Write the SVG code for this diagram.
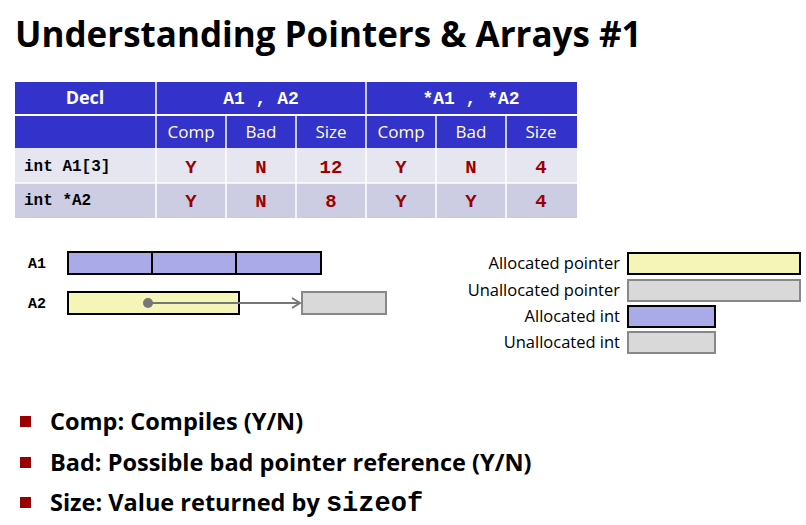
<svg xmlns="http://www.w3.org/2000/svg" width="806" height="525" viewBox="0 0 806 525">
<style>
.t{font-family:"Open Sans","Liberation Sans",sans-serif}
.m{font-family:"Liberation Mono",monospace;font-weight:bold}
.hd{fill:#3333cc}
.hw{fill:#fff;font-size:18px;font-weight:bold;text-anchor:middle}
.sub{fill:#ffffcc;font-size:17px;text-anchor:middle}
.v{fill:#990000;font-size:19px;text-anchor:middle}
.lg{font-size:16.5px;text-anchor:end;fill:#000}
.ap{fill:#f5f5b8;stroke:#000;stroke-width:2}
.up{fill:#d9d9d9;stroke:#888;stroke-width:2}
.ai{fill:#aaaae8;stroke:#000;stroke-width:2}
.b{font-size:23.5px;font-weight:bold}
</style>
<defs><marker id="ar" markerWidth="12" markerHeight="12" refX="10" refY="6" orient="auto" markerUnits="userSpaceOnUse"><path d="M2,1 L10,6 L2,11" fill="none" stroke="#777" stroke-width="2"/></marker></defs>
<text class="t" x="15" y="47" font-size="35" font-weight="bold">Understanding Pointers &amp; Arrays #1</text>
<g id="table">
<rect class="hd" x="15" y="82" width="562" height="32"/>
<rect class="hd" x="15" y="116" width="562" height="32"/>
<rect x="15" y="148" width="562" height="35" fill="#e6e6f0"/>
<rect x="15" y="183" width="562" height="35" fill="#cccce3"/>
<line x1="15" y1="115" x2="577" y2="115" stroke="#fff" stroke-width="2"/>
<g stroke="#fff" stroke-width="1.5">
<line x1="156" y1="82" x2="156" y2="218"/><line x1="366" y1="82" x2="366" y2="218"/>
<line x1="226" y1="116" x2="226" y2="218"/><line x1="296" y1="116" x2="296" y2="218"/>
<line x1="436" y1="116" x2="436" y2="218"/><line x1="506" y1="116" x2="506" y2="218"/>
<line x1="15" y1="183" x2="577" y2="183"/>
</g>
<text class="t hw" x="85" y="104">Decl</text>
<text class="m hw" x="261" y="104" xml:space="preserve">A1 , A2</text>
<text class="m hw" x="471" y="104" xml:space="preserve">*A1 , *A2</text>
<g class="t sub"><text x="191" y="138">Comp</text><text x="261" y="138">Bad</text><text x="331" y="138">Size</text><text x="401" y="138">Comp</text><text x="471" y="138">Bad</text><text x="541" y="138">Size</text></g>
<text class="m" x="24" y="171" font-size="16">int A1[3]</text>
<text class="m" x="24" y="205" font-size="16">int *A2</text>
<g class="m v"><text x="191" y="173">Y</text><text x="261" y="173">N</text><text x="331" y="173">12</text><text x="401" y="173">Y</text><text x="471" y="173">N</text><text x="541" y="173">4</text>
<text x="191" y="207">Y</text><text x="261" y="207">N</text><text x="331" y="207">8</text><text x="401" y="207">Y</text><text x="471" y="207">Y</text><text x="541" y="207">4</text></g>
</g>
<g id="A1">
<text class="m" x="28" y="268" font-size="15">A1</text>
<rect class="ai" x="68" y="252" width="253" height="22"/>
<line x1="152" y1="252" x2="152" y2="274" stroke="#000" stroke-width="2"/>
<line x1="236" y1="252" x2="236" y2="274" stroke="#000" stroke-width="2"/>
</g>
<g id="A2">
<text class="m" x="28" y="308" font-size="15">A2</text>
<rect class="ap" x="68" y="292" width="171" height="22"/>
</g>
<g id="target"><rect class="up" x="302" y="292" width="84" height="22"/></g>
<g id="connectors">
<circle cx="148" cy="303" r="5" fill="#777"/>
<line x1="148" y1="303" x2="300" y2="303" stroke="#777" stroke-width="2" marker-end="url(#ar)"/>
</g>
<g id="legend" class="t">
<text class="lg" x="620" y="269">Allocated  pointer</text><rect class="ap" x="628" y="253" width="172" height="21"/>
<text class="lg" x="620" y="296">Unallocated pointer</text><rect class="up" x="628" y="280" width="172" height="21"/>
<text class="lg" x="620" y="322">Allocated  int</text><rect class="ai" x="628" y="306" width="87" height="21"/>
<text class="lg" x="620" y="348">Unallocated  int</text><rect class="up" x="628" y="332" width="87" height="21"/>
</g>
<g id="bullets" class="t">
<rect x="20" y="416" width="11" height="11" fill="#990000"/>
<text class="b" x="50" y="430">Comp: Compiles (Y/N)</text>
<rect x="20" y="457" width="11" height="11" fill="#990000"/>
<text class="b" x="50" y="471">Bad: Possible bad pointer reference (Y/N)</text>
<rect x="20" y="497" width="11" height="11" fill="#990000"/>
<text class="b" x="50" y="511">Size: Value returned by <tspan font-family="Liberation Mono,monospace" font-size="27">sizeof</tspan></text>
</g>
</svg>
